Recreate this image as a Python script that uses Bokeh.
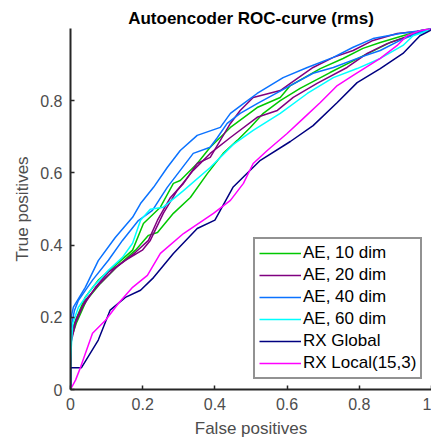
from bokeh.plotting import figure
from bokeh.models import Legend, LegendItem, FixedTicker
from bokeh.embed import file_html
from bokeh.resources import INLINE

# ---- data ----
ae10a_x = [0, 0, 0, 0.014, 0.041, 0.077, 0.124, 0.172, 0.202, 0.249, 0.285, 0.304, 0.351, 0.387, 0.443, 0.517, 0.581, 0.609, 0.692, 0.755, 0.81, 0.858, 0.921, 0.968, 1]
ae10a_y = [0, 0.059, 0.15, 0.192, 0.256, 0.303, 0.344, 0.386, 0.46, 0.505, 0.571, 0.579, 0.626, 0.671, 0.726, 0.781, 0.809, 0.842, 0.889, 0.917, 0.945, 0.961, 0.98, 0.994, 1]
ae10b_x = [0, 0, 0, 0.017, 0.044, 0.083, 0.133, 0.18, 0.216, 0.241, 0.285, 0.332, 0.379, 0.423, 0.462, 0.498, 0.534, 0.581, 0.636, 0.719, 0.802, 0.885, 0.94, 1]
ae10b_y = [0, 0.053, 0.136, 0.186, 0.247, 0.294, 0.344, 0.386, 0.427, 0.435, 0.488, 0.532, 0.598, 0.654, 0.69, 0.726, 0.765, 0.8, 0.834, 0.878, 0.92, 0.961, 0.98, 1]

ae20a_x = [0, 0, 0, 0.014, 0.033, 0.069, 0.105, 0.152, 0.199, 0.221, 0.257, 0.296, 0.34, 0.387, 0.443, 0.517, 0.573, 0.617, 0.683, 0.766, 0.822, 0.877, 0.94, 1]
ae20a_y = [0, 0.053, 0.123, 0.184, 0.228, 0.283, 0.325, 0.358, 0.386, 0.413, 0.488, 0.552, 0.607, 0.654, 0.698, 0.754, 0.773, 0.809, 0.848, 0.892, 0.931, 0.958, 0.98, 1]
ae20b_x = [0, 0, 0, 0.017, 0.041, 0.077, 0.124, 0.18, 0.216, 0.241, 0.277, 0.313, 0.351, 0.387, 0.415, 0.443, 0.47, 0.506, 0.581, 0.609, 0.672, 0.728, 0.783, 0.838, 0.905, 0.96, 1]
ae20b_y = [0, 0.059, 0.15, 0.197, 0.247, 0.289, 0.336, 0.38, 0.413, 0.469, 0.532, 0.571, 0.626, 0.643, 0.69, 0.737, 0.773, 0.809, 0.828, 0.848, 0.892, 0.92, 0.939, 0.967, 0.986, 0.992, 1]

ae40a_x = [0, 0, 0, 0.008, 0.041, 0.077, 0.124, 0.172, 0.194, 0.23, 0.268, 0.304, 0.351, 0.415, 0.443, 0.479, 0.517, 0.589, 0.656, 0.728, 0.783, 0.838, 0.913, 0.968, 1]
ae40a_y = [0, 0.067, 0.192, 0.228, 0.283, 0.357, 0.421, 0.477, 0.515, 0.56, 0.615, 0.662, 0.704, 0.726, 0.765, 0.792, 0.82, 0.864, 0.892, 0.92, 0.948, 0.972, 0.986, 0.994, 1]
ae40b_x = [0, 0, 0, 0.011, 0.022, 0.061, 0.105, 0.144, 0.188, 0.227, 0.268, 0.304, 0.34, 0.387, 0.407, 0.434, 0.47, 0.517, 0.6, 0.672, 0.728, 0.802, 0.858, 0.913, 0.96, 1]
ae40b_y = [0, 0.053, 0.164, 0.219, 0.247, 0.303, 0.358, 0.413, 0.468, 0.496, 0.56, 0.607, 0.654, 0.671, 0.698, 0.737, 0.765, 0.792, 0.837, 0.876, 0.892, 0.92, 0.939, 0.967, 0.986, 1]

ae60_x = [0, 0, 0, 0.006, 0.022, 0.061, 0.105, 0.144, 0.172, 0.194, 0.221, 0.257, 0.313, 0.387, 0.451, 0.506, 0.581, 0.656, 0.728, 0.794, 0.858, 0.921, 0.949, 0.976, 1]
ae60_y = [0, 0.045, 0.081, 0.183, 0.228, 0.283, 0.33, 0.366, 0.405, 0.469, 0.499, 0.505, 0.551, 0.615, 0.679, 0.718, 0.765, 0.82, 0.864, 0.889, 0.917, 0.953, 0.98, 0.989, 1]

rxg_x = [0, 0, 0.03, 0.077, 0.11, 0.152, 0.194, 0.23, 0.285, 0.351, 0.40, 0.45, 0.526, 0.609, 0.672, 0.739, 0.794, 0.858, 0.921, 0.968, 0.996, 1]
rxg_y = [0, 0.06, 0.06, 0.137, 0.22, 0.255, 0.275, 0.31, 0.377, 0.446, 0.469, 0.56, 0.635, 0.687, 0.731, 0.795, 0.85, 0.889, 0.931, 0.98, 0.994, 1]

rxl_x = [0, 0.014, 0.028, 0.061, 0.097, 0.133, 0.172, 0.213, 0.249, 0.313, 0.396, 0.443, 0.479, 0.506, 0.545, 0.60, 0.645, 0.692, 0.739, 0.783, 0.858, 0.905, 0.932, 0.968, 1]
rxl_y = [0, 0.026, 0.062, 0.156, 0.192, 0.239, 0.283, 0.316, 0.377, 0.432, 0.488, 0.524, 0.571, 0.626, 0.662, 0.709, 0.751, 0.795, 0.842, 0.87, 0.917, 0.953, 0.98, 0.994, 1]

labels = ["AE, 10 dim", "AE, 20 dim", "AE, 40 dim", "AE, 60 dim", "RX Global", "RX Local(15,3)"]
colors = ["#00c800", "#800080", "#0a72ff", "#00ffff", "#000080", "#ff00ff"]
x_ticks = [0, 0.2, 0.4, 0.6, 0.8, 1]
y_ticks = [0, 0.2, 0.4, 0.6, 0.8]

FONT = "Liberation Sans"

p = figure(width=431, height=440, output_backend="svg", toolbar_location=None,
           x_range=(0, 1), y_range=(0, 1),
           min_border_left=70, min_border_right=0, min_border_top=28, min_border_bottom=51,
           title="Autoencoder ROC-curve (rms)")
p.outline_line_color = None
p.grid.visible = False
p.background_fill_color = "white"
p.border_fill_color = "white"

p.title.align = "center"
p.title.text_font = FONT
p.title.text_font_size = "17px"
p.title.text_font_style = "bold"
p.title.text_color = "black"
p.title.standoff = 2

for ax in (p.xaxis[0], p.yaxis[0]):
    ax.axis_line_color = "#262626"
    ax.axis_line_width = 2
    ax.major_tick_line_color = "#262626"
    ax.major_tick_line_width = 1.5
    ax.major_tick_in = 4
    ax.major_tick_out = 0
    ax.minor_tick_line_color = None
    ax.major_label_text_font = FONT
    ax.major_label_text_font_size = "16px"
    ax.major_label_text_color = "#4d4d4d"
    ax.axis_label_text_font = FONT
    ax.axis_label_text_font_size = "17px"
    ax.axis_label_text_font_style = "normal"
    ax.axis_label_text_color = "#4d4d4d"

p.xaxis[0].ticker = FixedTicker(ticks=x_ticks)
p.yaxis[0].ticker = FixedTicker(ticks=y_ticks)
p.xaxis[0].major_label_overrides = {0: "0", 1: "1"}
p.yaxis[0].major_label_overrides = {0: "0"}
p.xaxis[0].axis_label = "False positives"
p.yaxis[0].axis_label = "True positives"
p.xaxis[0].major_label_standoff = 8
p.yaxis[0].major_label_standoff = 8
p.xaxis[0].axis_label_standoff = 6
p.yaxis[0].axis_label_standoff = 5

lw = 1.5
r10a = p.line(ae10a_x, ae10a_y, line_color=colors[0], line_width=lw)
r10b = p.line(ae10b_x, ae10b_y, line_color=colors[0], line_width=lw)
r20a = p.line(ae20a_x, ae20a_y, line_color=colors[1], line_width=lw)
r20b = p.line(ae20b_x, ae20b_y, line_color=colors[1], line_width=lw)
r40a = p.line(ae40a_x, ae40a_y, line_color=colors[2], line_width=lw)
r40b = p.line(ae40b_x, ae40b_y, line_color=colors[2], line_width=lw)
r60 = p.line(ae60_x, ae60_y, line_color=colors[3], line_width=lw)
rg = p.line(rxg_x, rxg_y, line_color=colors[4], line_width=lw)
rl = p.line(rxl_x, rxl_y, line_color=colors[5], line_width=lw)

legend = Legend(items=[
    LegendItem(label=labels[0], renderers=[r10a]),
    LegendItem(label=labels[1], renderers=[r20a]),
    LegendItem(label=labels[2], renderers=[r40a]),
    LegendItem(label=labels[3], renderers=[r60]),
    LegendItem(label=labels[4], renderers=[rg]),
    LegendItem(label=labels[5], renderers=[rl]),
], location=(183, 10))
legend.label_text_font = FONT
legend.label_text_font_size = "17px"
legend.label_text_color = "black"
legend.glyph_width = 42
legend.glyph_height = 20
legend.label_height = 20
legend.label_standoff = 2
legend.spacing = 2
legend.padding = 4
legend.margin = 0
legend.border_line_color = "#262626"
legend.border_line_width = 2
legend.background_fill_color = "white"
legend.background_fill_alpha = 1.0
p.add_layout(legend, "center")

open("out.html", "w").write(file_html(p, INLINE))
